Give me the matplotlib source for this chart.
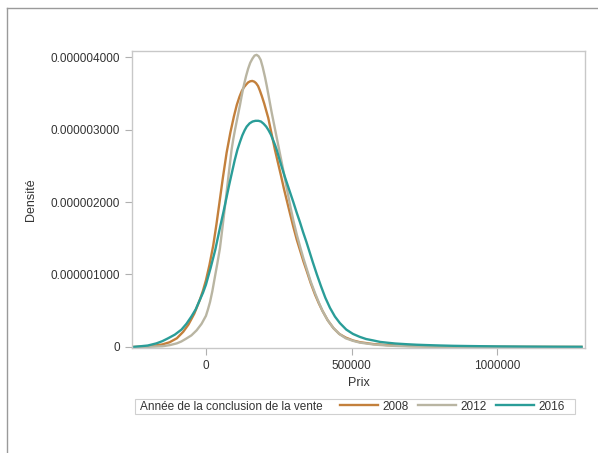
import numpy as np
import matplotlib
matplotlib.use('Agg')
import matplotlib.pyplot as plt
from matplotlib.ticker import FuncFormatter
from matplotlib.lines import Line2D
from matplotlib.patches import Rectangle

plt.rcParams['font.family'] = ['Liberation Sans', 'DejaVu Sans']

# densites (prix en milliers, densite en 1e-6)
prix_2008 = [-250, -225, -200, -175, -150, -125, -100, -78, -60, -40, -21, -10, 0, 12, 25, 36, 46,
             58, 71, 84, 96, 106, 115, 123, 130, 138, 145, 152, 159, 166, 172, 179, 185, 192,
             200, 207, 214, 225, 237, 248, 258, 268, 279, 290, 300, 312, 325, 335, 346, 360,
             375, 388, 400, 418, 438, 458, 480, 505, 529, 575, 621, 660, 700, 750, 800, 900,
             1000, 1100, 1290]
dens_2008 = [0.0, 0.004, 0.01, 0.02, 0.035, 0.065, 0.12, 0.21, 0.31, 0.46, 0.65, 0.78, 0.92,
             1.13, 1.40, 1.69, 1.98, 2.33, 2.68, 2.96, 3.18, 3.34, 3.45, 3.53, 3.58, 3.62, 3.65,
             3.665, 3.67, 3.66, 3.64, 3.60, 3.54, 3.46, 3.36, 3.26, 3.16, 2.95, 2.72, 2.53, 2.36,
             2.18, 2.0, 1.82, 1.66, 1.48, 1.31, 1.18, 1.05, 0.88, 0.72, 0.60, 0.50, 0.37, 0.26,
             0.18, 0.13, 0.09, 0.066, 0.04, 0.027, 0.019, 0.014, 0.010, 0.007, 0.004, 0.002,
             0.001, 0.0]

prix_2012 = [-250, -200, -150, -125, -100, -85, -70, -50, -32, -15, 0, 7, 14, 22, 30, 39, 48, 58,
             68, 78, 88, 94, 100, 106, 111, 117, 122, 127, 132, 138, 145, 152, 160, 167, 174,
             181, 188, 195, 203, 209, 215, 220, 226, 233, 240, 247, 254, 262, 270, 277, 285,
             292, 300, 312, 325, 335, 346, 360, 375, 388, 400, 418, 438, 458, 480, 505, 529,
             575, 621, 660, 700, 750, 800, 900, 1000, 1290]
dens_2012 = [0.0, 0.002, 0.01, 0.025, 0.05, 0.075, 0.11, 0.16, 0.23, 0.32, 0.43, 0.52, 0.62,
             0.77, 0.95, 1.15, 1.36, 1.69, 2.03, 2.38, 2.72, 2.87, 3.0, 3.12, 3.22, 3.34, 3.45,
             3.55, 3.64, 3.74, 3.84, 3.92, 3.98, 4.02, 4.03, 4.01, 3.96, 3.86, 3.72, 3.60, 3.47,
             3.36, 3.23, 3.09, 2.95, 2.81, 2.67, 2.51, 2.35, 2.20, 2.04, 1.90, 1.75, 1.55, 1.36,
             1.22, 1.08, 0.90, 0.74, 0.61, 0.50, 0.37, 0.26, 0.18, 0.12, 0.085, 0.06, 0.035,
             0.02, 0.013, 0.008, 0.006, 0.004, 0.002, 0.001, 0.0]

prix_2016 = [-250, -225, -200, -185, -170, -150, -130, -107, -84, -67, -50, -35, -21, -10, 0, 16,
             32, 41, 50, 60, 69, 80, 90, 99, 108, 117, 125, 133, 140, 150, 160, 170, 180, 189,
             198, 207, 215, 223, 230, 237, 243, 256, 270, 285, 300, 312, 323, 334, 345, 356,
             367, 381, 395, 410, 426, 443, 460, 482, 505, 528, 550, 575, 598, 625, 650, 690,
             724, 760, 800, 850, 900, 1000, 1100, 1200, 1290]
dens_2016 = [0.0, 0.01, 0.02, 0.035, 0.05, 0.08, 0.12, 0.17, 0.24, 0.32, 0.42, 0.52, 0.65, 0.75,
             0.86, 1.09, 1.34, 1.51, 1.68, 1.86, 2.03, 2.24, 2.42, 2.58, 2.72, 2.83, 2.92, 2.99,
             3.04, 3.085, 3.11, 3.12, 3.12, 3.11, 3.08, 3.04, 2.99, 2.93, 2.86, 2.79, 2.72, 2.54,
             2.36, 2.18, 2.0, 1.85, 1.72, 1.58, 1.45, 1.31, 1.17, 1.00, 0.84, 0.68, 0.54, 0.42,
             0.33, 0.24, 0.18, 0.14, 0.11, 0.09, 0.07, 0.058, 0.048, 0.038, 0.031, 0.026, 0.021,
             0.016, 0.013, 0.008, 0.005, 0.003, 0.002]

annees = ['2008', '2012', '2016']
couleurs = ['#C3803C', '#B9B5A2', '#2A9D98']

fig = plt.figure(figsize=[5.98, 4.53], dpi=100)
ax = fig.add_axes([132/598, 1-348/453, 453/598, 297/453])

series = [(prix_2008, dens_2008), (prix_2012, dens_2012), (prix_2016, dens_2016)]
for (px, dy), an, c in zip(series, annees, couleurs):
    ax.plot(np.array(px)*1000, np.array(dy)*1e-6, color=c, lw=1.7, label=an,
            solid_joinstyle='round')

ax.set_xlim(-254000, 1302000)
ax.set_ylim(-0.014e-6, 4.083e-6)
ax.set_xticks([0, 500000, 1000000])
ax.set_yticks([0, 1e-6, 2e-6, 3e-6, 4e-6])
ax.xaxis.set_major_formatter(FuncFormatter(lambda v, p: '%d' % round(v)))
ax.yaxis.set_major_formatter(FuncFormatter(lambda v, p: '0' if abs(v) < 1e-12 else '%.9f' % v))
for s in ax.spines.values():
    s.set_color('#c8c8c8')
    s.set_linewidth(1.0)
ax.tick_params(colors='#b0b0b0', labelcolor='#333333', labelsize=8.5, length=5, width=0.8)
ax.set_xlabel('Prix', fontsize=9, color='#333333', labelpad=4)
ax.set_ylabel('Densité', fontsize=9, color='#333333', labelpad=10)

# cadre exterieur
fig.add_artist(Line2D([7/598, 1], [1-8/453, 1-8/453], color='#9a9a9a', lw=1.0))
fig.add_artist(Line2D([7/598, 7/598], [0, 1-8/453], color='#9a9a9a', lw=1.0))

# legende
fig.add_artist(Rectangle((135/598, 1-414/453), 440/598, 15/453, fill=False,
                         edgecolor='#d0d0d0', lw=0.8))
fig.text(140/598, 1-406.5/453, 'Année de la conclusion de la vente', fontsize=8.5,
         color='#333333', va='center', ha='left')
fig.legend(loc='center right', bbox_to_anchor=(571/598, 1-406.5/453), ncol=3, frameon=False,
           fontsize=8.5, handlelength=3.2, handletextpad=0.4, columnspacing=0.8,
           borderpad=0, labelcolor='#333333')

plt.savefig('out.png', dpi=100)
